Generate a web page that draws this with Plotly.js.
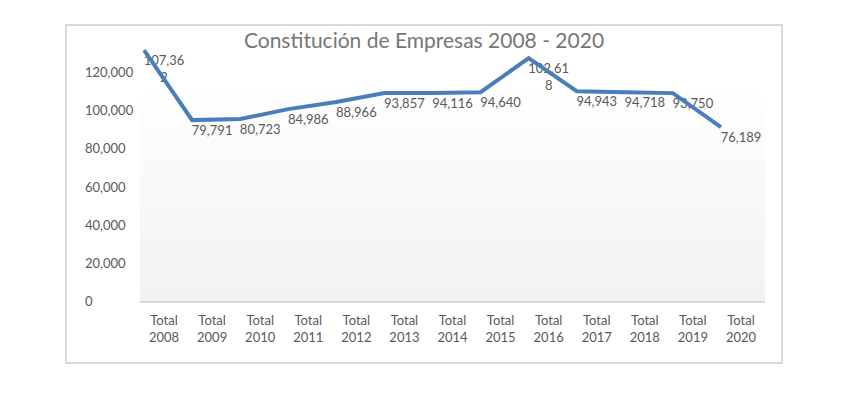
<!DOCTYPE html>
<html>
<head>
<meta charset="utf-8">
<script src="https://cdn.plot.ly/plotly-3.0.1.min.js"></script>
<style>html,body{margin:0;padding:0;background:#fff;}#chart{width:845px;height:395px;}</style>
</head>
<body>
<div id="chart"></div>
<script>
// Categories
const categorias = ["Total 2008","Total 2009","Total 2010","Total 2011","Total 2012","Total 2013","Total 2014","Total 2015","Total 2016","Total 2017","Total 2018","Total 2019","Total 2020"];
// Data label values (as printed on the chart)
const empresas = [107362, 79791, 80723, 84986, 88966, 93857, 94116, 94640, 102618, 94943, 94718, 93750, 76189];
// Line heights as read against the value axis
const lineaEje = [131500, 94850, 95400, 100600, 104300, 109000, 109000, 109500, 127300, 110000, 109500, 109000, 91200];
// Y tick values
const yTicks = [0, 20000, 40000, 60000, 80000, 100000, 120000];

const fmt = v => v.toLocaleString('en-US');
const wrapLabel = s => s.length > 6 ? s.slice(0, 6) + '<br>' + s.slice(6) : s;
const tickText = categorias.map(c => c.replace(' ', '<br>'));
const labelText = empresas.map(v => wrapLabel(fmt(v)));

const gray = '#595959';
const font = 'Lato, "Open Sans", sans-serif';

// gradient background bands
const shapes = [];
const N = 40, gTop = 0.816;
for (let i = 0; i < N; i++) {
  const t = i / (N - 1);
  const c = Math.round(242 + (255 - 242) * t);
  shapes.push({type: 'rect', xref: 'paper', yref: 'paper', x0: 0, x1: 1,
    y0: gTop * i / N, y1: gTop * (i + 1) / N + 0.002, fillcolor: `rgb(${c},${c},${c})`,
    line: {width: 0}, layer: 'below'});
}
// chart border
shapes.push({type: 'rect', xref: 'paper', yref: 'paper', x0: -0.1184, x1: 1.0272, y0: -0.2322, y1: 1.0337,
  line: {color: '#d9d9d9', width: 2}, fillcolor: 'rgba(0,0,0,0)', layer: 'below'});

const annotations = yTicks.map(v => ({
  xref: 'paper', yref: 'y', x: -0.0912, y: v, xanchor: 'left', yanchor: 'middle',
  text: fmt(v), showarrow: false, font: {family: font, size: 13, color: gray}
}));

const traces = [
  {x: categorias, y: lineaEje, xaxis: 'x2', yaxis: 'y', type: 'scatter', mode: 'lines',
   line: {color: '#4a7ebb', width: 4}, hoverinfo: 'skip', cliponaxis: false},
  {x: categorias, y: lineaEje, xaxis: 'x', yaxis: 'y', type: 'scatter', mode: 'markers+text',
   marker: {size: 7, color: 'rgba(0,0,0,0)'},
   text: labelText, textposition: 'bottom center', cliponaxis: false,
   textfont: {family: font, size: 13, color: gray}, hoverinfo: 'skip'}
];

const layout = {
  width: 845, height: 395,
  margin: {l: 140, r: 80, t: 34, b: 94},
  paper_bgcolor: '#ffffff', plot_bgcolor: 'rgba(0,0,0,0)',
  showlegend: false,
  title: {text: 'Constitución de Empresas 2008 - 2020', xref: 'container', yref: 'container',
    x: 424 / 845, y: 1 - 41 / 395, xanchor: 'center', yanchor: 'middle',
    font: {family: font, size: 21, color: '#767676'}},
  xaxis: {type: 'category', categoryorder: 'array', categoryarray: categorias,
    range: [-0.5, 12.5], tickvals: categorias, ticktext: tickText,
    showline: true, linecolor: '#d9d9d9', linewidth: 1.5, showgrid: false, zeroline: false,
    ticks: 'outside', ticklen: 7, tickcolor: 'rgba(0,0,0,0)',
    tickfont: {family: font, size: 13, color: gray}, fixedrange: true},
  xaxis2: {type: 'category', overlaying: 'x', categoryorder: 'array', categoryarray: categorias,
    range: [-0.5 + 20 / 48.08, 12.5 + 20 / 48.08], visible: false, fixedrange: true},
  yaxis: {range: [0, 140000], showgrid: false, zeroline: false, showline: false,
    showticklabels: false, ticks: '', fixedrange: true},
  shapes: shapes,
  annotations: annotations
};

Plotly.newPlot('chart', traces, layout, {displayModeBar: false, staticPlot: true});
</script>
</body>
</html>
